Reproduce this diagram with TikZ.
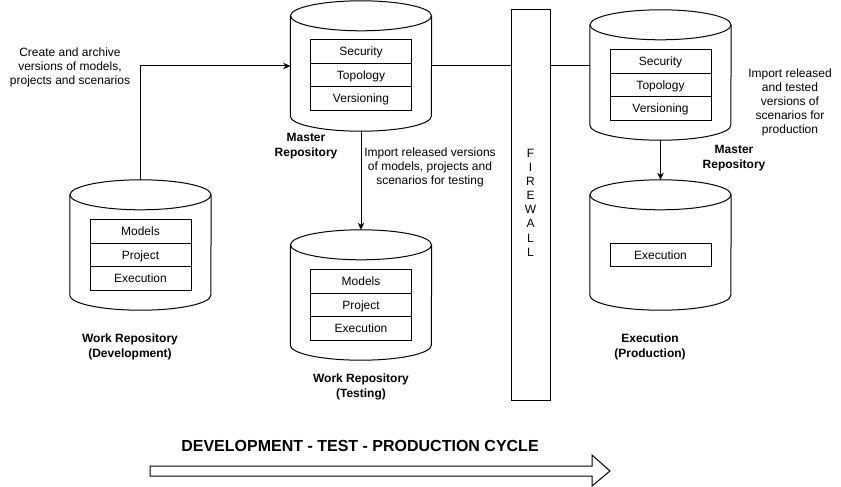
\documentclass[tikz,border=0pt]{standalone}
\usepackage{fontspec}
\setmainfont{Liberation Sans}
\usetikzlibrary{arrows.meta}
\newcommand\cyldraw[1]{%
  \path[draw,fill=white,line width=1pt] ([yshift=-15pt]#1.north west) -- ([yshift=15pt]#1.south west)
    arc[start angle=180,end angle=360,x radius=70.5pt,y radius=15pt] -- ([yshift=-15pt]#1.north east);
  \draw[fill=white,line width=1pt] ([yshift=-15pt]#1.north) ellipse[x radius=70.5pt,y radius=15pt];}
\begin{document}
\begin{tikzpicture}[x=1pt,y=-1pt,
  every node/.style={font=\fontsize{12}{14}\selectfont},
  lbl/.style={align=center, inner sep=0pt},
  blbl/.style={lbl, font=\fontsize{12}{14.5}\selectfont\bfseries},
  cylbox/.style={minimum width=141pt, minimum height=130pt, inner sep=0pt},
  row/.style={draw, line width=1pt, fill=white, minimum width=101pt, minimum height=23.5pt, inner sep=0pt, text height=10.86pt, text depth=2.54pt},
  link/.style={line width=1pt},
  arr/.style={link, -{Stealth[length=7pt,width=6.5pt,inset=2pt]}}
]
\fill[white] (0,0) rectangle (841,487);
\useasboundingbox (0,0) rectangle (841,487);

% cylinders
\node[cylbox] (mr) at (361,66) {};
\node[cylbox] (pm) at (660.5,75) {};
\node[cylbox] (dev) at (140.5,245) {};
\node[cylbox] (tst) at (361,295) {};
\node[cylbox] (pe) at (660.5,245) {};
\cyldraw{mr}
\cyldraw{pm}
\cyldraw{dev}
\cyldraw{tst}
\cyldraw{pe}

% inner rows
\node[row] (mr1) at (361,51.5) {Security};
\node[row] (mr2) at (361,75) {Topology};
\node[row] (mr3) at (361,98.5) {Versioning};
\node[row] (pm1) at (660.5,61.5) {Security};
\node[row] (pm2) at (660.5,85) {Topology};
\node[row] (pm3) at (660.5,108.5) {Versioning};
\node[row] (dev1) at (140.5,231.5) {Models};
\node[row] (dev2) at (140.5,255) {Project};
\node[row] (dev3) at (140.5,278.5) {Execution};
\node[row] (tst1) at (361,281.5) {Models};
\node[row] (tst2) at (361,305) {Project};
\node[row] (tst3) at (361,328.5) {Execution};
\node[row] (pe1) at (660.5,255) {Execution};

% firewall
\node[draw, line width=1pt, minimum width=39pt, minimum height=390pt, inner sep=0pt] (fw) at (530.5,205) {};
\node[lbl, font=\fontsize{12}{14.15}\selectfont] (fwt) at (530.5,202.5) {F\\I\\R\\E\\W\\A\\L\\L};

% connectors
\draw[arr] (dev.north) |- (mr.west);
\draw[link] (mr.east) -- (mr.east -| fw.west);
\draw[link] (mr.east -| fw.east) -- (mr.east -| pm.west);
\draw[arr] (mr.south) -- (tst.north);
\draw[arr] (pm.south) -- (pe.north);

% labels
\node[lbl] (l1) at (70,67) {Create and archive\\versions of models,\\projects and scenarios};
\node[blbl] (l2) at (306,146) {Master\\Repository};
\node[lbl] (l3) at (430,167) {Import released versions\\of models, projects and\\scenarios for testing};
\node[blbl] (l4) at (130,347) {Work Repository\\(Development)};
\node[blbl] (l5) at (361,387) {Work Repository\\(Testing)};
\node[blbl] (l6) at (734,158) {Master\\Repository};
\node[lbl] (l7) at (790,102) {Import released\\and tested\\versions of\\scenarios for\\production};
\node[blbl] (l8) at (650,347) {Execution\\(Production)};

% cycle arrow
\node[inner sep=0pt, font=\fontsize{16}{19}\selectfont\bfseries] (title) at (360,446) {DEVELOPMENT - TEST - PRODUCTION CYCLE};
\draw[line width=1pt, fill=white] (150,466) -- (592,466) -- (592,455) -- (610,471) -- (592,486) -- (592,476) -- (150,476) -- cycle;
\end{tikzpicture}
\end{document}
